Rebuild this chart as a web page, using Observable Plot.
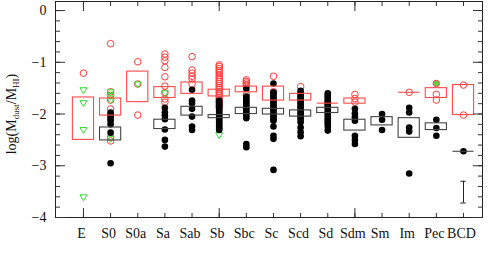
<!DOCTYPE html>
<html><head><meta charset="utf-8">
<script src="https://cdn.jsdelivr.net/npm/d3@7"></script>
<script src="https://cdn.jsdelivr.net/npm/@observablehq/plot@0.6"></script>
<style>body{margin:0;background:#fff} svg{display:block}</style>
</head><body><div id="chart"></div>
<script>
const categories = ["E","S0","S0a","Sa","Sab","Sb","Sbc","Sc","Scd","Sd","Sdm","Sm","Im","Pec","BCD"];
const yMajorTicks = [0,-1,-2,-3,-4];
const xMajorTicks = ["E","Sb","Sdm"];

// open red circles: [category, values...]
const redOpen = [
 ["E", -1.21],
 ["S0", -0.64, -1.57, -1.64, -1.73, -1.90, -2.45, -2.52],
 ["S0a", -0.99, -1.42, -2.02],
 ["Sa", -0.84, -0.90, -0.97, -1.10, -1.28, -1.46, -1.59, -1.71, -1.77],
 ["Sab", -0.89, -1.15, -1.21, -1.27, -1.32, -1.42],
 ["Sb", -1.05, -1.08, -1.12, -1.16, -1.20, -1.25, -1.29, -1.33, -1.37, -1.41, -1.45, -1.49, -1.52, -1.56, -1.60, -1.64, -1.68, -1.72, -1.77, -1.82, -1.87],
 ["Sbc", -1.34, -1.37, -1.40, -1.43, -1.46, -1.63],
 ["Sc", -1.27, -1.57],
 ["Scd", -1.47],
 ["Sd", -1.79],
 ["Sdm", -1.62, -1.70, -1.77],
 ["Im", -1.58],
 ["Pec", -1.41, -1.62, -1.73],
 ["BCD", -1.44, -2.02]
];
// filled black circles
const blackFilled = [
 ["S0", -1.97, -2.01, -2.05, -2.09, -2.13, -2.20, -2.36, -2.95],
 ["Sa", -1.88, -1.97, -2.03, -2.10, -2.30, -2.50, -2.63],
 ["Sab", -1.53, -1.74, -1.79, -1.90, -2.05, -2.24, -2.31],
 ["Sb", -1.74, -1.77, -1.80, -1.83, -1.86, -1.89, -1.92, -1.95, -1.98, -2.01, -2.04, -2.07, -2.10, -2.13, -2.16, -2.19, -2.22, -2.25, -2.28, -2.31],
 ["Sbc", -1.51, -1.66, -1.70, -1.74, -1.78, -1.82, -1.86, -1.90, -1.94, -1.98, -2.03, -2.08, -2.58, -2.64],
 ["Sc", -1.41, -1.58, -1.62, -1.66, -1.70, -1.74, -1.78, -1.82, -1.86, -1.90, -1.94, -1.98, -2.02, -2.06, -2.10, -2.13, -2.24, -2.42, -2.48, -3.08],
 ["Scd", -1.55, -1.59, -1.63, -1.67, -1.71, -1.75, -1.79, -1.83, -1.87, -1.91, -1.95, -1.99, -2.03, -2.07, -2.11, -2.16, -2.26, -2.35, -2.43],
 ["Sd", -1.60, -1.64, -1.68, -1.72, -1.76, -1.80, -1.84, -1.88, -1.92, -1.96, -2.00, -2.04, -2.08, -2.12, -2.16, -2.20, -2.25, -2.32],
 ["Sdm", -1.90, -1.99, -2.06, -2.13, -2.42, -2.50, -2.58],
 ["Sm", -2.00, -2.11, -2.31],
 ["Im", -1.88, -1.97, -2.26, -2.34, -3.15],
 ["Pec", -2.11, -2.27, -2.42],
 ["BCD", -2.72]
];
// green open inverted triangles (limits)
const greenLimits = [
 ["E", -1.53, -1.78, -2.30, -3.60],
 ["S0", -1.57, -1.64, -1.73, -2.47],
 ["S0a", -1.42],
 ["Sa", -1.59],
 ["Sb", -2.40]
];
// green filled circle
const greenFilled = [["Pec", -1.41]];
// boxes: [category, low, high]
const redBoxes = [
 ["E", -2.50, -1.68], ["S0", -2.03, -1.70], ["S0a", -1.77, -1.18], ["Sa", -1.69, -1.48],
 ["Sab", -1.61, -1.39], ["Sb", -1.66, -1.53], ["Sbc", -1.58, -1.47], ["Sc", -1.74, -1.47],
 ["Scd", -1.74, -1.61], ["Sd", -1.79, -1.79], ["Sdm", -1.80, -1.70], ["Im", -1.58, -1.58],
 ["Pec", -1.69, -1.50], ["BCD", -2.02, -1.44]
];
const blackBoxes = [
 ["S0", -2.51, -2.26], ["Sa", -2.29, -2.11], ["Sab", -2.03, -1.86], ["Sb", -2.08, -2.02],
 ["Sbc", -2.00, -1.88], ["Sc", -2.01, -1.90], ["Scd", -2.05, -1.93], ["Sd", -1.98, -1.88],
 ["Sdm", -2.32, -2.11], ["Sm", -2.22, -2.06], ["Im", -2.46, -2.08], ["Pec", -2.31, -2.18],
 ["BCD", -2.72, -2.72]
];
const errorBar = [["BCD", -3.72, -3.30]];

const idx = c => categories.indexOf(c);
const pts = rows => rows.flatMap(([c, ...vs]) => vs.map(v => ({i: idx(c), v})));
const boxes = rows => rows.map(([c, lo, hi]) => ({i: idx(c), lo, hi}));
const HW = 0.39;

const redB = boxes(redBoxes), blackB = boxes(blackBoxes);
const err = boxes(errorBar);
const RED = "#ff3b3b", BOXRED = "#ff4a4a", GREEN = "#33dd33", GREY = "#444";
const FONT = "Liberation Serif";
const allIdx = d3.range(categories.length);
const majorIdx = xMajorTicks.map(idx);
const minorY = d3.range(-4, 0.01, 0.2).map(v => +v.toFixed(1));

const chart = Plot.plot({
  width: 491, height: 273,
  marginLeft: 55, marginRight: 9, marginTop: 1, marginBottom: 56,
  style: {fontFamily: FONT, fontSize: "14px", background: "white", color: "#111"},
  x: {type: "linear", domain: [-1.03, 14.7], axis: null},
  y: {domain: [-4, 0.175], axis: null},
  marks: [
    Plot.dot(pts(greenFilled), {x: "i", y: "v", r: 3, fill: "#66cc44", stroke: "none"}),
    Plot.dot(pts(redOpen), {x: "i", y: "v", r: 3.3, stroke: RED, strokeWidth: 1, fill: "none"}),
    Plot.dot(pts(greenLimits), {x: "i", y: "v", r: 2.6, symbol: "triangle", rotate: 180, stroke: GREEN, strokeWidth: 1, fill: "none"}),
    Plot.dot(pts(blackFilled), {x: "i", y: "v", r: 3.3, fill: "black", stroke: "none"}),
    Plot.rect(redB.filter(d => d.lo !== d.hi), {x1: d => d.i - HW, x2: d => d.i + HW, y1: "lo", y2: "hi", fill: "none", stroke: BOXRED, strokeWidth: 1.1}),
    Plot.ruleY(redB.filter(d => d.lo === d.hi), {x1: d => d.i - HW, x2: d => d.i + HW, y: "lo", stroke: BOXRED, strokeWidth: 1.1}),
    Plot.rect(blackB.filter(d => d.lo !== d.hi), {x1: d => d.i - HW, x2: d => d.i + HW, y1: "lo", y2: "hi", fill: "none", stroke: GREY, strokeWidth: 1.1}),
    Plot.ruleY(blackB.filter(d => d.lo === d.hi), {x1: d => d.i - HW, x2: d => d.i + HW, y: "lo", stroke: GREY, strokeWidth: 1.1}),
    Plot.ruleX(err, {x: "i", y1: "lo", y2: "hi", stroke: "#222"}),
    Plot.ruleY(err, {x1: d => d.i - 0.1, x2: d => d.i + 0.1, y: "lo", stroke: "#222"}),
    Plot.ruleY(err, {x1: d => d.i - 0.1, x2: d => d.i + 0.1, y: "hi", stroke: "#222"}),
    Plot.frame({stroke: "#222"}),
    // y axes ticks (inward)
    Plot.axisY({anchor: "left", ticks: yMajorTicks, tickSize: -10, fill: "none", stroke: "#333"}),
    Plot.axisY({anchor: "left", ticks: minorY, tickSize: -5, fill: "none", stroke: "#333"}),
    Plot.axisY({anchor: "right", ticks: yMajorTicks, tickSize: -10, fill: "none", stroke: "#333"}),
    Plot.axisY({anchor: "right", ticks: minorY, tickSize: -5, fill: "none", stroke: "#333"}),
    Plot.axisY({anchor: "left", ticks: yMajorTicks, tickSize: 0, tickPadding: 9, label: null,
      fontFamily: FONT, fontSize: 14, fontVariant: "normal",
      tickFormat: d => d === 0 ? "0" : "\u2212" + Math.abs(d)}),
    // x axes ticks (inward)
    Plot.axisX({anchor: "bottom", ticks: allIdx, tickSize: -4, fill: "none", stroke: "#333"}),
    Plot.axisX({anchor: "bottom", ticks: majorIdx, tickSize: -9, fill: "none", stroke: "#333"}),
    Plot.axisX({anchor: "top", ticks: allIdx, tickSize: -4, fill: "none", stroke: "#333"}),
    Plot.axisX({anchor: "top", ticks: majorIdx, tickSize: -9, fill: "none", stroke: "#333"}),
    Plot.axisX({anchor: "bottom", ticks: allIdx, tickSize: 0, tickPadding: 11, dx: -2, label: null,
      fontFamily: FONT, fontSize: 14, fontVariant: "normal",
      tickFormat: i => categories[i]})
  ]
});

// y-axis title with subscripts
const svg = d3.select(chart);
const t = svg.append("text")
  .attr("transform", "translate(16,114) rotate(-90)")
  .attr("text-anchor", "middle")
  .attr("font-family", FONT)
  .attr("font-size", 14)
  .attr("fill", "#111");
t.append("tspan").text("log(M");
t.append("tspan").attr("font-size", 9).attr("dy", 3).text("dust");
t.append("tspan").attr("dy", -3).text("/M");
t.append("tspan").attr("font-size", 9).attr("dy", 3).text("HI");
t.append("tspan").attr("dy", -3).text(")");

document.getElementById("chart").append(chart);
</script>
</body></html>
